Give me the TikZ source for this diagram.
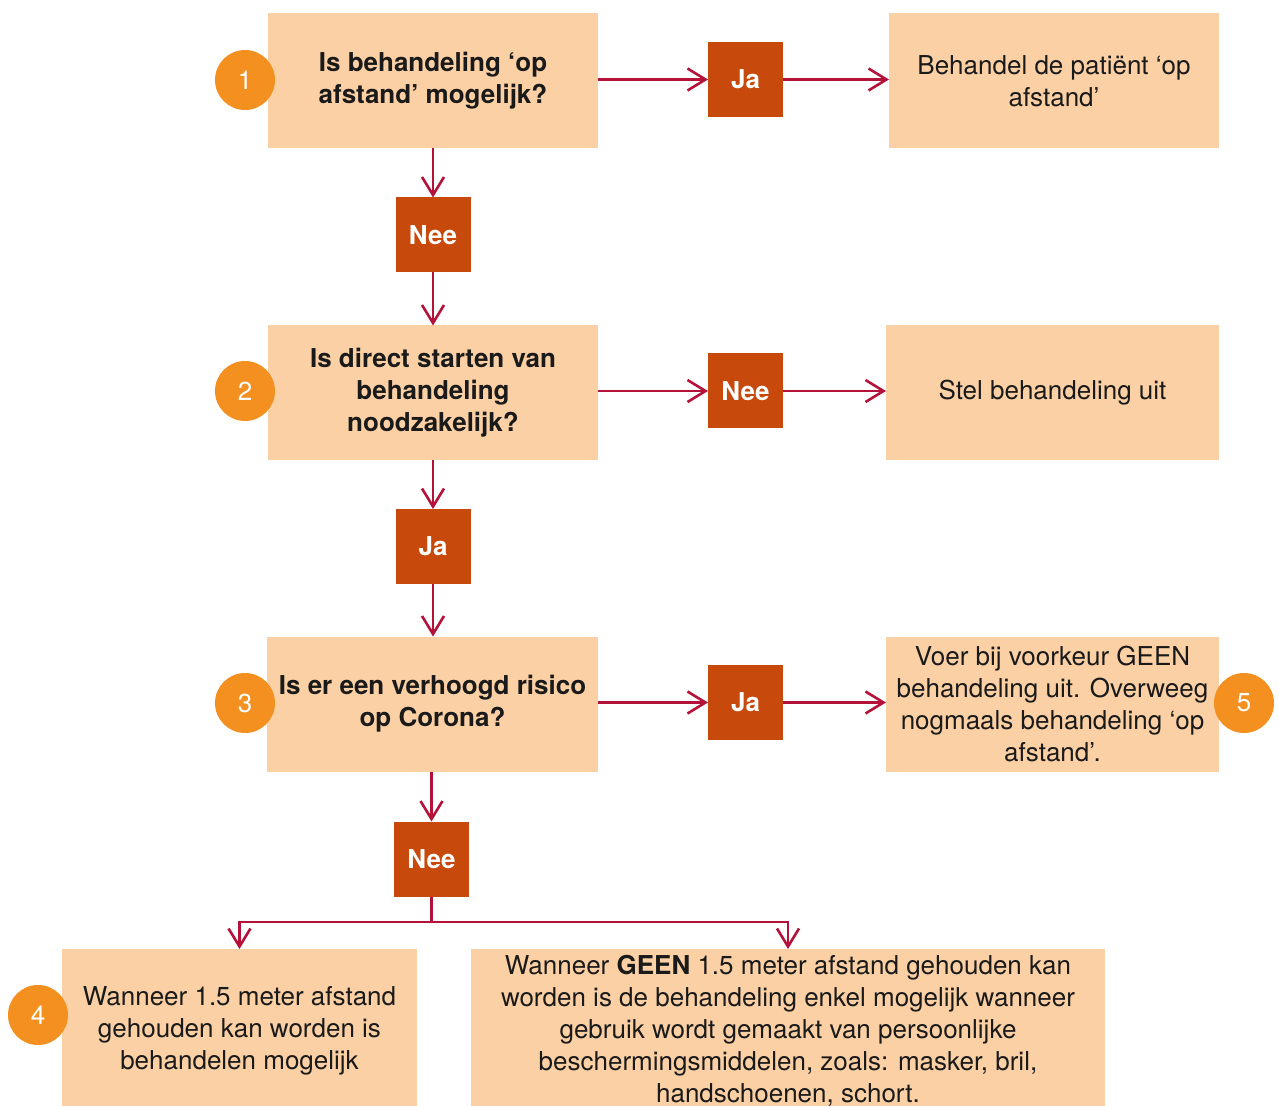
\documentclass[tikz,border=0pt]{standalone}
\usepackage{fontspec}
\setmainfont{TeX Gyre Heros}
\usetikzlibrary{arrows.meta}
\definecolor{boxfill}{HTML}{FBD0A5}
\definecolor{tagfill}{HTML}{C8490C}
\definecolor{circfill}{HTML}{F39020}
\definecolor{linecol}{HTML}{B5123A}
\definecolor{txt}{HTML}{1A1A1A}
\begin{document}
\begin{tikzpicture}[x=0.5pt,y=-0.5pt,
  every node/.style={inner sep=0pt,outer sep=0pt},
  qbox/.style={fill=boxfill,minimum width=165pt,minimum height=67.5pt,align=center,text=txt,
    font=\fontsize{13}{16}\selectfont\bfseries},
  abox/.style={fill=boxfill,minimum width=166.5pt,minimum height=67.5pt,align=center,text=txt,
    font=\fontsize{13}{16}\selectfont},
  tag/.style={fill=tagfill,minimum width=37.5pt,minimum height=37.5pt,text=white,
    font=\fontsize{13}{16}\selectfont\bfseries},
  num/.style={circle,fill=circfill,minimum size=30pt,text=white,font=\fontsize{13}{16}\selectfont},
  arr/.style={draw=linecol,line width=1.3pt,-{Straight Barb[length=9pt,width=11pt,line width=1.3pt]}},
  ln/.style={draw=linecol,line width=1.3pt}]
\useasboundingbox (0,0) rectangle (1279,1106);
\clip (0,0) rectangle (1279,1106);
% question boxes
\node[qbox] (b1) at (433,81) {Is behandeling ‘op\\afstand’ mogelijk?};
\node[qbox] (b2) at (433,393) {Is direct starten van\\behandeling\\noodzakelijk?};
\node[qbox,minimum width=165.5pt] (b3) at (432.5,704) {Is er een verhoogd risico\\op Corona?};
% answer boxes
\node[abox,minimum width=165pt] (r1) at (1054,81) {Behandel de patiënt ‘op\\afstand’};
\node[abox] (r2) at (1052.5,393) {Stel behandeling uit};
\node[abox] (r3) at (1052.5,704) {Voer bij voorkeur GEEN\\behandeling uit. Overweeg\\nogmaals behandeling ‘op\\afstand’.};
\node[abox,minimum width=177.5pt,minimum height=82pt] (b4) at (239.5,1031) {Wanneer 1.5 meter afstand\\gehouden kan worden is\\behandelen mogelijk};
\node[abox,minimum width=317pt,minimum height=82pt] (b5) at (788,1031) {Wanneer \textbf{GEEN} 1.5 meter afstand gehouden kan\\worden is de behandeling enkel mogelijk wanneer\\gebruik wordt gemaakt van persoonlijke\\beschermingsmiddelen, zoals: masker, bril,\\handschoenen, schort.};
% tags
\node[tag] (j1) at (745.5,79.5) {Ja};
\node[tag] (n1) at (433,235) {Nee};
\node[tag] (n2) at (745.5,391) {Nee};
\node[tag] (j2) at (433,546.5) {Ja};
\node[tag] (j3) at (745.5,702.5) {Ja};
\node[tag] (n3) at (431.5,859) {Nee};
% numbers
\node[num] (c1) at (245,80) {1};
\node[num] (c2) at (245,391) {2};
\node[num] (c3) at (245,703) {3};
\node[num] (c4) at (38,1015) {4};
\node[num] (c5) at (1244,703) {5};
% connectors
\draw[arr] (b1.east|-j1.west) -- (j1.west);
\draw[arr] (j1.east) -- (r1.west|-j1.east);
\draw[arr] (b2.east|-n2.west) -- (n2.west);
\draw[arr] (n2.east) -- (r2.west|-n2.east);
\draw[arr] (b3.east|-j3.west) -- (j3.west);
\draw[arr] (j3.east) -- (r3.west|-j3.east);
\draw[arr] (b1.south) -- (n1.north);
\draw[arr] (n1.south) -- (b2.north);
\draw[arr] (b2.south) -- (j2.north);
\draw[arr] (j2.south) -- (j2.south|-b3.north);
\draw[arr] (n3.south|-b3.south) -- (n3.north);
\coordinate (jn) at (431.5,922);
\draw[ln] (n3.south) -- (jn);
\draw[arr] (jn) -| (b4.north);
\draw[arr] (jn) -| (b5.north);
\end{tikzpicture}
\end{document}
